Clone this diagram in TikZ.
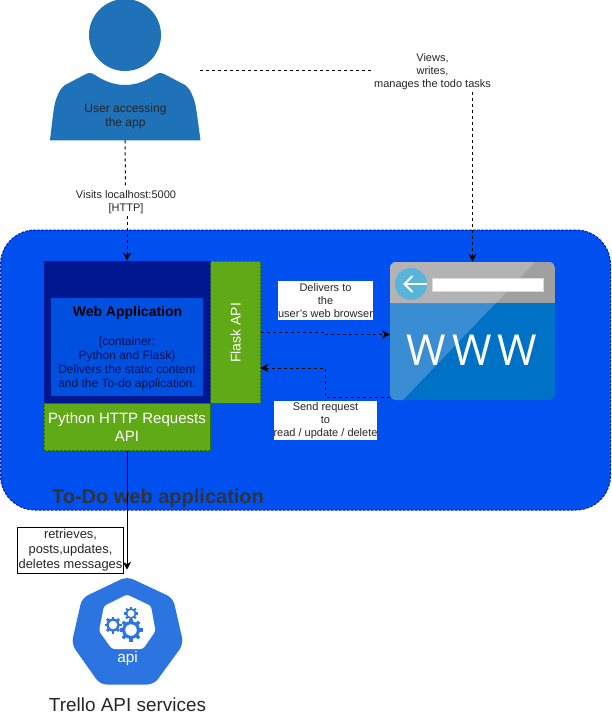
\documentclass[tikz,border=0pt]{standalone}
\usepackage{xcolor}
\usepackage{fontspec}
\usepackage{tikz}
\usetikzlibrary{arrows.meta, positioning, calc}
\setmainfont{Liberation Sans}
\newfontfamily\wwwfont[LetterSpace=14]{Open Sans}
\definecolor{usrblue}{HTML}{1F71B8}
\definecolor{zoneblue}{HTML}{0050EF}
\definecolor{zoneline}{HTML}{001DBC}
\definecolor{darkblue}{HTML}{00188F}
\definecolor{appblue}{HTML}{0050DF}
\definecolor{apigreen}{HTML}{60A917}
\definecolor{apiline}{HTML}{2D7600}
\definecolor{wwwdark}{HTML}{0072C6}
\definecolor{wwwlight}{HTML}{3A8DD2}
\definecolor{bardark}{HTML}{A0A0A1}
\definecolor{barlight}{HTML}{B3B3B3}
\definecolor{backblue}{HTML}{59B4D9}
\definecolor{hexblue}{HTML}{2C74E0}
\definecolor{apptext}{HTML}{00114D}
\def\px{0.75pt}
\newcommand{\apigear}[3]{%
    \fill[hexblue] (#1,#2) circle[radius=#3*0.78];
    \foreach \ang in {0,45,...,315}
        \draw[hexblue, line width=#3*0.3*\px] (#1,#2) -- ++(\ang:#3);
    \fill[white] (#1,#2) circle[radius=#3*0.5];
}
\begin{document}
\begin{tikzpicture}[
    x=0.75pt, y=-0.75pt,
    box/.style n args={3}{draw=#3, fill=#2, dash pattern=on 2pt off 1pt, line width=\px,
               minimum width=#1, inner sep=0pt, align=center},
    lbl/.style={font=\fontsize{8.25}{9.75}\selectfont, fill=white, align=center, inner sep=0pt, text=black!85},
    link/.style={dash pattern=on 2.25pt off 2.25pt, line width=\px, -{Stealth[length=6pt, width=6pt]}},
    plain/.style={dash pattern=on 2.25pt off 2.25pt, line width=\px},
]
    \useasboundingbox (0,0) rectangle (611,721);

    % Zone
    \node[draw=zoneline, fill=zoneblue, dash pattern=on 2pt off 1pt, line width=\px, rounded corners=26pt,
          minimum width=610*\px, minimum height=280*\px, inner sep=0pt] (zone) at (305.5,370) {};
    \node[font=\fontsize{15}{18}\selectfont\bfseries, text=black!80, inner sep=0pt] (zonetext) at (158,498) {To-Do web application};

    % User
    \fill[usrblue] (125,35) circle[radius=36];
    \fill[usrblue] (50,140.3) .. controls (53,115) and (54,103) .. (57,97)
        .. controls (59,92) and (60,89) .. (65,85) -- (85,74.5)
        .. controls (88,72.5) and (92,72.5) .. (95,75)
        .. controls (104,81) and (114,85) .. (125,85)
        .. controls (136,85) and (146,81) .. (155,75)
        .. controls (158,72.5) and (162,72.5) .. (165,74.5) -- (185,85)
        .. controls (190,89) and (191,92) .. (193,97)
        .. controls (196,103) and (197,115) .. (200.5,140.3) -- cycle;
    \node[minimum width=150*\px, minimum height=140*\px, inner sep=0pt] (user) at (125,70) {};
    \node[font=\fontsize{9}{10.5}\selectfont, align=center, text=black!85, inner sep=0pt] (usertext) at (125.5,116) {User accessing\\the app};

    % Web application
    \node[box={166*\px}{darkblue}{darkblue}, minimum height=142*\px] (webapp) at (127,332) {};
    \node[fill=appblue, minimum width=152*\px, minimum height=98*\px, inner sep=0pt] (appinner) at (127,347) {};
    \node[font=\fontsize{10.5}{12}\selectfont\bfseries, inner sep=0pt] (apptitle) at (127.5,312.5) {Web Application};
    \node[font=\fontsize{9}{10.5}\selectfont, align=center, text=apptext, inner sep=0pt] (appdesc) at (127,363.5)
        {[container:\\Python and Flask)\\Delivers the static content\\and the To-do application.};
    \node[box={50*\px}{apigreen}{apiline}, minimum height=142*\px] (flask) at (235.5,332) {};
    \node[rotate=90, text=white, font=\fontsize{10.5}{12}\selectfont, inner sep=0pt] (flasktext) at (235.5,333) {Flask API};
    \node[box={166*\px}{apigreen}{apiline}, minimum height=47*\px, text=white,
          font=\fontsize{11.25}{13.5}\selectfont] (requests) at (127,427) {Python HTTP Requests\\API};

    % Browser
    \node[minimum width=165*\px, minimum height=138*\px, inner sep=0pt] (browser) at (472.5,331) {};
    \begin{scope}
        \clip[rounded corners=4.5pt] (390,262) rectangle (555,400);
        \fill[wwwdark] (390,262) rectangle (555,400);
        \fill[wwwlight] (390,262) -- (535,262) -- (403,400) -- (390,400) -- cycle;
        \fill[bardark] (390,262) rectangle (555,303);
        \fill[barlight] (390,262) -- (535,262) -- (496,303) -- (390,303) -- cycle;
    \end{scope}
    \fill[backblue] (411,284) circle[radius=16];
    \draw[white, line width=1.5pt, -{Straight Barb[length=6pt, width=12pt]}] (427,284) -- (403,284);
    \draw[fill=white, draw=white!85!black, line width=\px] (432,278) rectangle (543,291);
    \node[text=white, font=\fontsize{32}{32}\selectfont\wwwfont, inner sep=0pt] (wwwtext) at (472,350) {WWW};

    % Trello
    \fill[hexblue, rounded corners=5pt] (127,576.5) -- (173,598) -- (183.5,644) -- (154,684.5) -- (100,684.5) -- (71.5,644) -- (82,598) -- cycle;
    \fill[white, rounded corners=2pt] (127,594.5) -- (151,606) -- (155.5,631) -- (143,649) -- (112,649) -- (99,631) -- (104,606) -- cycle;
    \apigear{131}{613.5}{7}
    \apigear{113}{625}{8.5}
    \apigear{131}{630}{11.5}
    \node[minimum width=112*\px, minimum height=114*\px, inner sep=0pt] (trello) at (127,627) {};
    \node[text=white, font=\fontsize{11.5}{13}\selectfont, inner sep=0pt] (apitext) at (127.5,658.5) {api};
    \node[font=\fontsize{14.2}{16}\selectfont, text=black!85, inner sep=0pt] (trellotext) at (127.5,705) {Trello API services};

    % Coordinates
    \coordinate (delivin) at (390,334.5);
    \coordinate (sendout) at (390,397);
    \coordinate (sendin) at (260.5,368);

    % Connectors
    \draw[link] (user.east) -| (browser.north);
    \draw[plain] (user.south) -- (125.5,186);
    \draw[link] (127,216) -- (webapp.north);
    \draw[link] (flask.east) -| ($(flask.east)!.5!(delivin)$) |- (delivin);
    \draw[link] (sendout) -| ($(sendout)!.5!(sendin)$) |- (sendin);
    \draw[line width=\px, -{Stealth[length=6pt, width=6pt]}] (requests.south) -- (trello.north);

    % Labels
    \node[lbl] (views) at (432.5,72) {Views,\\writes,\\manages the todo tasks};
    \node[lbl] (visits) at (126,202) {Visits localhost:5000\\{[HTTP]}};
    \node[lbl, minimum width=95*\px, minimum height=39*\px] (delivers) at (325.5,300.5) {Delivers to\\the\\user's web browser};
    \node[lbl, minimum width=103*\px, minimum height=39*\px] (send) at (325.5,420.5) {Send request\\to\\read / update / delete};
    \node[lbl, draw=black, line width=\px, minimum width=106*\px, minimum height=46*\px,
          font=\fontsize{9.65}{11.25}\selectfont] (retrieves) at (70.5,550) {retrieves,\\posts,updates,\\deletes messages};
\end{tikzpicture}
\end{document}
